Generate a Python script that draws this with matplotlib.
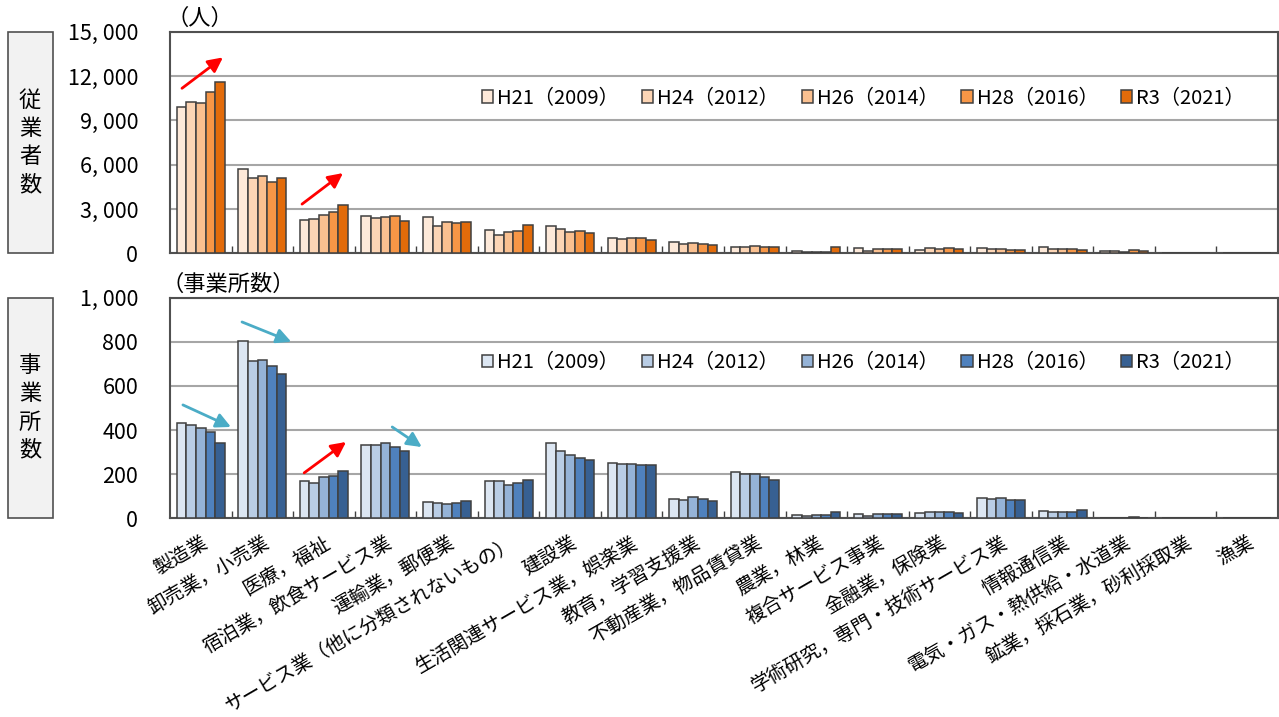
import matplotlib
matplotlib.use("Agg")
import numpy as np
import matplotlib.pyplot as plt
from matplotlib.patches import Rectangle

plt.rcParams['font.family'] = ['Noto Sans CJK JP', 'DejaVu Sans']

industries = ['製造業', '卸売業，小売業', '医療，福祉', '宿泊業，飲食サービス業', '運輸業，郵便業',
              'サービス業（他に分類されないもの）', '建設業', '生活関連サービス業，娯楽業',
              '教育，学習支援業', '不動産業，物品賃貸業', '農業，林業', '複合サービス事業',
              '金融業，保険業', '学術研究，専門・技術サービス業', '情報通信業',
              '電気・ガス・熱供給・水道業', '鉱業，採石業，砂利採取業', '漁業']
years = ['H21（2009）', 'H24（2012）', 'H26（2014）', 'H28（2016）', 'R3（2021）']

# employees by industry, one list per survey year
workers_h21 = [9880, 5680, 2260, 2550, 2430, 1600, 1850, 1060, 790, 450, 180, 340, 240, 360, 400, 160, 50, 0]
workers_h24 = [10260, 5080, 2350, 2410, 1850, 1240, 1640, 970, 610, 430, 120, 160, 380, 270, 315, 135, 50, 0]
workers_h26 = [10200, 5260, 2620, 2440, 2120, 1440, 1460, 1010, 700, 520, 120, 290, 320, 270, 315, 115, 50, 0]
workers_h28 = [10940, 4800, 2770, 2530, 2070, 1510, 1510, 1040, 610, 450, 100, 290, 330, 200, 290, 200, 50, 0]
workers_r3 = [11590, 5100, 3250, 2190, 2100, 1890, 1400, 900, 540, 430, 450, 300, 320, 245, 200, 135, 50, 0]

# establishments by industry
offices_h21 = [433, 804, 171, 331, 76, 168, 343, 251, 86, 211, 15, 18, 26, 94, 35, 2, 1, 0]
offices_h24 = [421, 711, 162, 331, 69, 168, 304, 245, 84, 202, 11, 12, 30, 88, 27, 2, 1, 0]
offices_h26 = [409, 716, 189, 341, 66, 153, 285, 246, 95, 202, 15, 20, 27, 91, 29, 2, 1, 0]
offices_h28 = [391, 690, 190, 322, 71, 159, 275, 240, 87, 189, 15, 20, 27, 82, 27, 5, 1, 0]
offices_r3 = [340, 656, 213, 305, 80, 172, 266, 240, 80, 175, 29, 18, 26, 82, 36, 2, 1, 0]

orange = ['#FDE9D9', '#FCD5B5', '#FAC090', '#F79646', '#E26B0A']
blue = ['#DCE6F2', '#B9CDE5', '#95B3D7', '#4F81BD', '#376092']
edge = '#404040'

W, H = 1279, 717
fig = plt.figure(figsize=(W / 100, H / 100), dpi=100)
ax1 = fig.add_axes([170 / W, 1 - 253.3 / H, 1108 / W, 221.6 / H])
ax2 = fig.add_axes([170 / W, 1 - 518.3 / H, 1108 / W, 220.6 / H])

x = np.arange(len(industries))
bw = 0.156


def draw_bars(ax, series, colors, ymax, step):
    for i, vals in enumerate(series):
        ax.bar(x + (i - 2) * bw, vals, width=bw, color=colors[i], edgecolor=edge,
               linewidth=1.1, label=years[i], zorder=3)
    ax.set_xlim(-0.5, len(industries) - 0.5)
    ax.set_ylim(0, ymax)
    ticks = np.arange(0, ymax + 1, step)
    ax.set_yticks(ticks)
    ax.set_yticklabels(['{:,}'.format(t).replace(',', ', ') for t in ticks], fontsize=15.5)
    ax.yaxis.grid(True, color='#A6A6A6', linewidth=1.5, zorder=0)
    ax.tick_params(axis='y', length=0, pad=23)
    ax.set_xticks(x)
    ax.set_xticks(np.arange(0.5, len(industries) - 1, 1), minor=True)
    ax.tick_params(axis='x', which='major', length=0)
    ax.tick_params(axis='x', which='minor', direction='in', length=5, width=1, color=edge)
    for s in ax.spines.values():
        s.set_color('#505050')
        s.set_linewidth(1.5)
    ax.set_axisbelow(True)


draw_bars(ax1, [workers_h21, workers_h24, workers_h26, workers_h28, workers_r3], orange, 15000, 3000)
draw_bars(ax2, [offices_h21, offices_h24, offices_h26, offices_h28, offices_r3], blue, 1000, 200)

ax1.set_xticklabels([])
ax2.set_xticklabels(industries, rotation=30, ha='right', rotation_mode='anchor', fontsize=14)
ax2.tick_params(axis='x', which='major', pad=10)

for ax, ly in [(ax1, 0.70), (ax2, 0.705)]:
    ax.legend(loc='center left', bbox_to_anchor=(0.274, ly), ncol=5, frameon=False,
              fontsize=14.5, handlelength=0.55, handleheight=0.55, handletextpad=0.2,
              columnspacing=1.15, borderaxespad=0)

fig.text(166 / W, 1 - 18 / H, '（人）', fontsize=16, ha='left', va='center')
fig.text(162 / W, 1 - 284 / H, '（事業所数）', fontsize=16, ha='left', va='center')

# side captions in gray boxes
for top, bottom, label in [(31.7, 253.3, '従\n業\n者\n数'), (297.7, 518.3, '事\n業\n所\n数')]:
    fig.patches.append(Rectangle((7.5 / W, 1 - bottom / H), 45.5 / W, (bottom - top) / H,
                                 transform=fig.transFigure, facecolor='#F2F2F2',
                                 edgecolor='#505050', linewidth=1.2))
    fig.text(30 / W, 1 - (top + bottom) / 2 / H, label, fontsize=16, ha='center', va='center',
             linespacing=1.28)

# trend arrows
red = '#FF0000'
teal = '#4BACC6'
arrows = [
    (ax1, (-0.305, 11170), (0.36, 13260), red),
    (ax1, (1.645, 3330), (2.31, 5430), red),
    (ax2, (-0.29, 514), (0.49, 414), teal),
    (ax2, (0.67, 890), (1.47, 800), teal),
    (ax2, (1.68, 206), (2.36, 346), red),
    (ax2, (3.11, 414), (3.59, 323), teal),
]
for ax, start, end, c in arrows:
    ax.annotate('', xy=end, xytext=start,
                arrowprops=dict(arrowstyle='-|>', color=c, lw=2, mutation_scale=22,
                                shrinkA=0, shrinkB=0), zorder=5)

fig.savefig('out.png', dpi=100)
